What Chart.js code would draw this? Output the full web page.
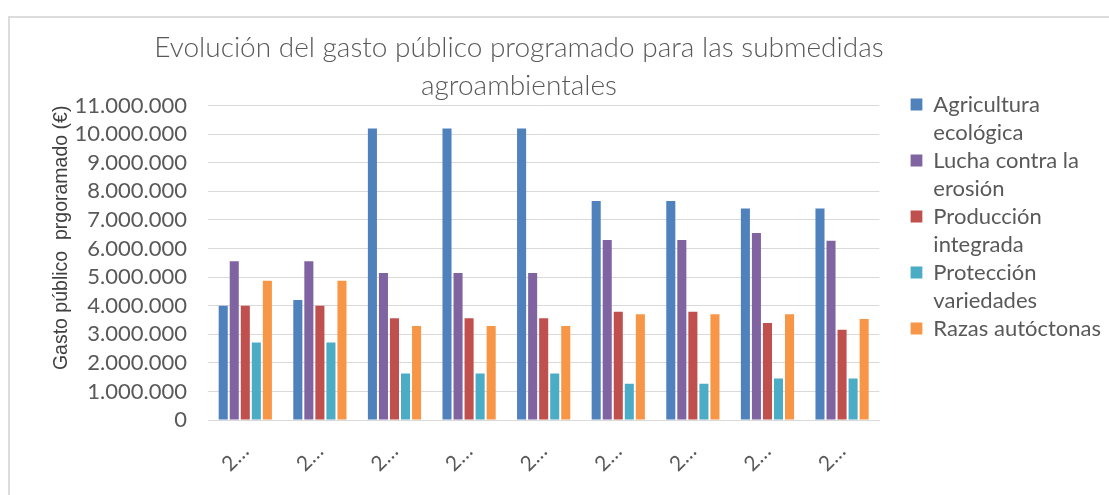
<!DOCTYPE html>
<html>
<head>
<meta charset="utf-8">
<script src="https://cdn.jsdelivr.net/npm/chart.js@4/dist/chart.umd.min.js"></script>
<style>
  html, body { margin: 0; padding: 0; background: #ffffff; }
  #frame { position: absolute; left: 8px; top: 16px; width: 1200px; height: 600px; border: 2px solid #dcdcdc; box-sizing: border-box; }
  #wrap { position: absolute; left: 0; top: 0; width: 1109px; height: 495px; }
</style>
</head>
<body>
<div id="frame"></div>
<div id="wrap"><canvas id="c"></canvas></div>
<script>
// ---- data ----
const categories = ['2…', '2…', '2…', '2…', '2…', '2…', '2…', '2…', '2…'];
const seriesNames = ['Agricultura ecológica', 'Lucha contra la erosión', 'Producción integrada', 'Protección variedades', 'Razas autóctonas'];
const legendLines = [['Agricultura', 'ecológica'], ['Lucha contra la', 'erosión'], ['Producción', 'integrada'], ['Protección', 'variedades'], 'Razas autóctonas'];
const agriculturaEcologica = [4000000, 4200000, 10200000, 10200000, 10200000, 7660000, 7660000, 7400000, 7400000];
const luchaErosion = [5550000, 5550000, 5140000, 5140000, 5140000, 6300000, 6300000, 6540000, 6270000];
const produccionIntegrada = [4000000, 4000000, 3560000, 3560000, 3560000, 3790000, 3790000, 3390000, 3160000];
const proteccionVariedades = [2710000, 2710000, 1630000, 1630000, 1630000, 1270000, 1270000, 1450000, 1450000];
const razasAutoctonas = [4870000, 4870000, 3290000, 3290000, 3290000, 3700000, 3700000, 3700000, 3530000];
const titleLines = ['Evolución del gasto público programado para las submedidas', 'agroambientales'];
const yAxisTitle = 'Gasto público  prgoramado (€)';
const yMin = 0, yMax = 11000000, yStep = 1000000;

const colors = ['#4F81BD', '#8064A2', '#C0504D', '#4BACC6', '#F79646'];
const seriesValues = [agriculturaEcologica, luchaErosion, produccionIntegrada, proteccionVariedades, razasAutoctonas];

function fmt(v) {
  return String(Math.round(v)).replace(/\B(?=(\d{3})+(?!\d))/g, '.');
}

// shift title / legend to the spots the Excel layout uses
const excelLayout = {
  id: 'excelLayout',
  afterLayout(chart) {
    const t = chart.titleBlock;
    if (t) { t.left -= 41; t.right -= 41; }
    const l = chart.legend;
    if (l) { l.left += 31; l.right += 31; l.top -= 12; l.bottom -= 12; }
  }
};

const textGray = '#595959';

new Chart(document.getElementById('c'), {
  type: 'bar',
  data: {
    labels: categories,
    datasets: seriesValues.map((vals, i) => ({
      label: legendLines[i],
      data: vals,
      backgroundColor: colors[i],
      borderWidth: 0,
      categoryPercentage: 0.74,
      barPercentage: 0.82
    }))
  },
  options: {
    responsive: true,
    maintainAspectRatio: false,
    animation: false,
    layout: { padding: { left: 40, right: 29, top: 0, bottom: 0 } },
    plugins: {
      title: {
        display: true,
        text: titleLines,
        color: textGray,
        fullSize: true,
        font: { family: 'Lato', size: 28, weight: '300', lineHeight: 1.35 },
        padding: { top: 29, bottom: 1 }
      },
      legend: {
        display: true,
        position: 'right',
        align: 'start',
        fullSize: false,
        labels: {
          boxWidth: 12,
          boxHeight: 12,
          padding: 0,
          color: textGray,
          font: { family: 'Lato', size: 22, lineHeight: 28 / 22 }
        }
      },
      tooltip: { enabled: false }
    },
    scales: {
      x: {
        grid: { display: false },
        border: { display: true, color: '#d9d9d9', width: 1 },
        ticks: {
          color: textGray,
          font: { family: 'Lato', size: 21 },
          minRotation: 45,
          maxRotation: 45,
          autoSkip: false,
          padding: 11
        },
        afterFit(s) { s.height = 75; }
      },
      y: {
        min: yMin,
        max: yMax,
        grid: { color: '#d9d9d9', lineWidth: 1, drawTicks: false },
        border: { display: false },
        ticks: {
          stepSize: yStep,
          autoSkip: false,
          color: textGray,
          padding: 21,
          font: { family: 'Lato', size: 22 },
          callback: (v) => fmt(v)
        },
        title: {
          display: true,
          text: yAxisTitle,
          align: 'end',
          color: '#404040',
          font: { family: "'Liberation Sans Narrow', 'Liberation Sans', Arial", size: 19.5 },
          padding: { top: 10, bottom: 0 }
        },
        afterFit(s) { s.width = 168; }
      }
    }
  },
  plugins: [excelLayout]
});
</script>
</body>
</html>
